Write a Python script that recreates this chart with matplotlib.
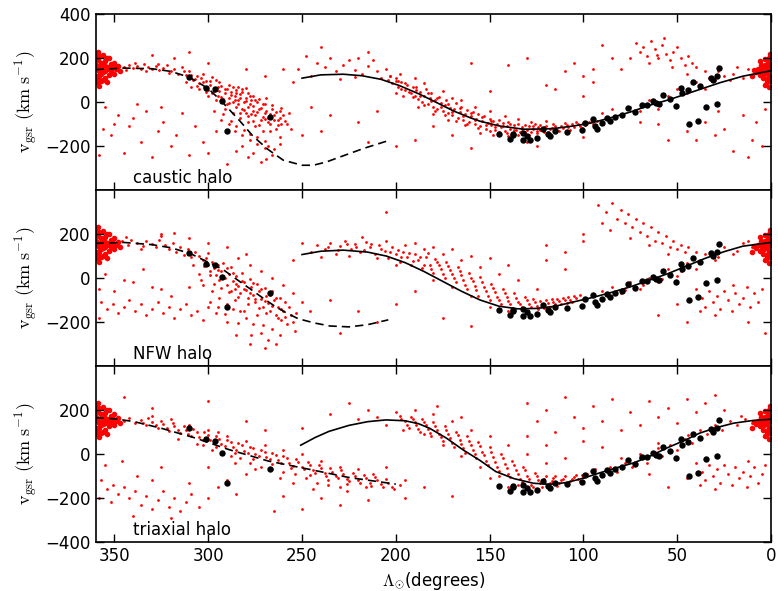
import matplotlib as mpl
mpl.use("Agg")
import matplotlib.pyplot as plt
import numpy as np

plt.rcParams["mathtext.fontset"] = "cm"

# ---- model curves (Lambda_sun in degrees, v_gsr in km/s)
caustic_lead_lam = [360, 345, 330, 320, 310, 300, 293, 283, 276, 268, 260, 250, 244, 237, 230, 217, 204]
caustic_lead_v = [148, 155, 152, 140, 113, 62, 5, -87, -156, -216, -264, -287, -287, -272, -250, -210, -175]
caustic_trail_lam = [250, 240, 228, 218, 208, 198, 187, 178, 169, 160, 155, 145, 132, 120, 114, 105, 96, 85, 75, 65, 54, 40, 27, 15, 0]
caustic_trail_v = [109, 124, 127, 120, 104, 75, 35, -3, -41, -72, -87, -108, -123, -122, -118, -108, -95, -70, -45, -15, 12, 52, 89, 118, 143]

nfw_lead_lam = [360, 345, 330, 320, 310, 300, 292, 285, 278, 271, 264, 258, 252, 243, 235, 225, 215, 204]
nfw_lead_v = [158, 162, 152, 138, 113, 72, 38, -5, -47, -90, -131, -160, -185, -205, -218, -222, -212, -190]
nfw_trail_lam = [250, 240, 228, 215, 205, 195, 185, 175, 165, 155, 145, 135, 125, 115, 105, 95, 85, 75, 65, 55, 45, 35, 25, 15, 0]
nfw_trail_v = [107, 122, 127, 118, 100, 70, 30, -15, -60, -100, -128, -140, -138, -128, -108, -88, -65, -40, -10, 20, 55, 90, 120, 145, 162]

tri_lead_lam = [360, 350, 340, 325, 307, 289, 268, 246, 225, 200]
tri_lead_v = [165, 160, 148, 117, 73, 20, -32, -70, -107, -137]
tri_trail_lam = [250.7, 243, 235.6, 225, 215, 205.3, 195, 188, 182, 173, 164.4, 155, 146.7, 137, 126.7, 118, 109, 100, 91, 82, 73, 64, 55.6, 46, 38, 29, 20, 10, 0]
tri_trail_v = [40, 75, 103, 130, 147, 155, 151, 138, 117, 72, 20, -30, -80, -112, -133, -138, -130, -110, -85, -62, -40, -8, 27, 62, 95, 120, 140, 152, 158]

# ---- observed stars (black), same in every panel
obs_stars = [
    (310.2, 116), (301.3, 66), (296.5, 61), (292.8, 5), (289.8, -133), (267.2, -67),
    (144.9, -144), (137.8, -149), (139.2, -169), (132.1, -141), (130.3, -156), (132.1, -172),
    (128.5, -172), (125, -164), (121.4, -123), (118.8, -144), (117.9, -156), (115.2, -133),
    (109, -138), (101, -126), (99.2, -95), (94.8, -77), (93.9, -110), (93, -123), (90.3, -95),
    (87.6, -72), (85.9, -87), (83.2, -68), (79.6, -57), (76.1, -26), (72.5, -46), (68.9, -15),
    (66.3, -15), (62.8, 5), (61.3, -3), (59.6, -8), (57.8, 31), (53.9, 15), (50.7, -18),
    (48, 66), (47.6, 43), (44.1, 54), (41.4, 92), (37.9, 74), (34.7, -23), (32.2, 112),
    (30.8, 100), (29, 120), (27.7, 155), (43.7, -100), (39.1, -87), (28.6, -8), (137.4, -146),
]

# ---- dense Sgr core, shared by all panels
core_stars = [
    (359, 150), (358, 120), (357, 180), (356, 100), (355, 140), (354, 200), (353, 160), (359, 90),
    (358, 210), (357, 130), (356, 170), (355, 110), (354, 150), (353, 125), (352, 175), (359, 190),
    (358, 160), (357, 95), (356, 215), (355, 185), (354, 90), (353, 200), (352, 140), (351, 160),
    (350, 130), (350, 180), (349, 150), (348, 165), (347, 140), (359, 230), (358, 75), (356, 135),
    (357, 155), (355, 165), (360, 120), (360, 170), (359, 110), (358, 140), (360, 90), (360, 210),
    (0.5, 150), (1, 120), (1.5, 180), (2, 100), (2.5, 140), (3, 170), (3.5, 130), (4, 110),
    (4.5, 160), (5, 140), (6, 125), (7, 150), (1, 200), (2, 90), (0.5, 95), (1, 165), (2, 135),
    (3, 195), (4, 145), (0.5, 175), (1.5, 110), (2.5, 160), (5.5, 170), (8, 135), (9, 145),
    (10, 120), (3, 80), (1, 70), (6, 185), (0.5, 220),
]

# ---- simulated debris (red), per halo model
caustic_debris = [
    (345, 160), (342, 170), (340, 155), (338, 165), (336, 150), (334, 175), (332, 160), (330, 150),
    (328, 165), (326, 145), (324, 155), (322, 170), (320, 140), (318, 150), (316, 130), (314, 160),
    (312, 125), (310, 140), (344, 145), (339, 178), (333, 142), (327, 172), (321, 132),
    (308, 100), (306, 120), (305, 85), (304, 110), (302, 70), (301, 95), (300, 55), (299, 80),
    (298, 40), (297, 65), (296, 100), (295, 30), (294, 50), (293, 75), (292, 15), (291, 40),
    (290, 60), (290, -10), (289, 20), (288, 45), (287, 0), (286, 30), (285, 55), (285, -20),
    (284, 10), (283, 35), (282, -30), (282, 60), (281, 0), (280, 20), (280, -50), (279, 40),
    (278, -10), (277, 10), (276, -40), (276, 30), (275, -60), (274, 0), (273, -30), (272, -80),
    (271, -10), (270, -50), (269, 20), (268, -70), (267, -100), (266, -30), (265, -60),
    (264, -120), (263, -80), (262, -40), (261, -100), (303, 130), (298, 115), (294, 90),
    (289, 80), (284, 70), (280, 65), (300, 30), (296, 10), (291, -30), (287, -50), (283, -70),
    (279, -90), (275, -110), (271, -130), (297, -40), (293, -80), (289, -100), (286, -130),
    (282, -150), (278, -170), (274, -190), (270, -210), (266, -240), (279, -250), (285, -220),
    (272, -270), (262, -160), (260, -60), (258, -100), (312, 90), (309, 70), (305, 60),
    (355, -20), (352, -150), (348, -60), (345, -230), (342, -110), (340, -70), (336, -180),
    (333, -40), (330, -250), (327, -130), (324, -90), (320, -200), (317, -150), (314, -50),
    (310, -240), (307, -110), (303, -180), (300, -230), (296, -130), (290, -280), (350, -100),
    (338, -10), (325, -20), (358, -240), (356, -120),
    (330, 215), (318, 200), (310, 230), (300, 180), (280, 150), (270, 120),
    (255, 90), (252, 150), (248, 210), (245, 120), (242, 180), (238, 160), (235, 200), (232, 140),
    (228, 170), (225, 190), (222, 145), (220, 200), (218, 130), (215, 165), (212, 190), (210, 140),
    (208, 110), (205, 150), (203, 120), (200, 95), (198, 130), (240, 250), (215, 230), (260, 150),
    (222, 115), (230, 105),
    (204, 100), (202, 85), (200, 110), (199, 70), (197, 90), (195, 55), (194, 80), (192, 40),
    (191, 70), (190, 30), (189, 55), (188, 15), (187, 45), (186, 0), (185, 30), (184, 60),
    (183, -10), (182, 20), (181, 40), (180, -20), (179, 10), (178, -30), (177, 25), (176, -5),
    (175, -40), (174, -15), (173, 10), (172, -50), (171, -25), (170, -60), (169, -30), (168, -5),
    (167, -70), (166, -45), (165, -20), (164, -80), (163, -55), (162, -35), (161, -90), (160, -65),
    (159, -45), (158, -100), (157, -75), (156, -55), (155, -110), (154, -85), (153, -65),
    (152, -120), (151, -95), (150, -75), (149, -105), (148, -85), (147, -125), (146, -100),
    (145, -80), (144, -115), (143, -95), (142, -130), (141, -110), (140, -90), (139, -120),
    (138, -140), (137, -105), (136, -125), (135, -100), (134, -135), (133, -115), (132, -145),
    (131, -105), (130, -125), (129, -110), (128, -135), (127, -120), (126, -100), (125, -130),
    (124, -115), (123, -105), (122, -125), (121, -135), (120, -110), (118, -120), (116, -100),
    (114, -125), (112, -110), (110, -95), (108, -115), (106, -100), (104, -90), (102, -110),
    (100, -95), (196, 30), (188, -20), (180, -55), (172, -80), (163, -105), (155, -140),
    (148, -150), (140, -155), (200, 40), (185, 85), (175, 50), (165, 10), (158, -20), (150, -40),
    (142, -65), (135, -75), (128, -90), (120, -85), (190, 110), (170, 20),
    (95, -70), (90, -50), (85, -30), (80, -60), (75, -20), (70, -40), (65, 10), (60, -30),
    (55, 30), (50, 60), (45, 40), (40, 90), (35, 60), (30, 100), (25, 120), (20, 130), (15, 110),
    (12, 150), (18, 160), (22, 100), (28, 140), (33, 110),
    (72, 270), (70, 230), (68, 250), (66, 210), (64, 280), (62, 240), (60, 200), (58, 260),
    (56, 220), (54, 190), (52, 230), (50, 250), (48, 200), (46, 170), (44, 210), (42, 180),
    (65, 180), (57, 290), (61, 215), (53, 160), (75, 200), (85, 200), (90, 260), (105, 180),
    (120, 80), (115, 60), (95, 90), (100, 30), (80, 150), (110, 140), (35, 140), (45, 130), (40, 160),
    (45, -130), (40, -170), (35, -90), (30, -150), (25, -120), (20, -220), (15, -60), (10, -170),
    (5, -200), (8, -90), (55, -170), (60, -100), (70, -90), (28, -40), (3, -30), (12, -250),
    (100, -160), (130, -180), (125, -200),
    (235, -60), (220, -90), (215, -180), (200, -200), (190, -170), (180, -110), (170, -150),
    (160, -210), (240, -130), (250, -150), (210, -40), (245, -20), (150, 50), (140, 170),
    (130, 200), (160, 180), (100, 120), (95, 150),
]
caustic_debris_dense = [
    (297, 52), (295, 71), (293, 22), (291, 58), (289, -4), (288, 33), (286, 12), (285, 41),
    (284, -8), (283, 18), (282, 47), (281, -37), (280, 5), (279, -22), (278, 27), (277, -55),
    (276, -18), (275, 8), (274, -44), (273, 15), (272, -26), (271, -66), (270, -8), (269, -38),
    (268, -90), (267, -52), (266, -12), (265, -82), (264, -45), (263, -105), (262, -70),
    (261, -25), (259, -85), (257, -50), (256, -120), (299, 95), (301, 45), (303, 92), (306, 75),
    (307, 103), (309, 122), (311, 108), (313, 142), (287, 68), (283, -48), (279, -62),
    (276, -88), (273, -105), (270, -75), (267, -130), (292, -52), (288, -85), (285, -110),
    (281, -128), (278, -145), (274, -160), (270, -178), (268, -200), (265, -215), (262, -190),
    (276, -230), (282, -200), (269, -258),
    (203, 118), (199, 96), (197, 62), (195, 88), (193, 48), (191, 22), (189, 68), (187, 28),
    (185, -12), (183, 42), (181, 5), (179, -42), (178, 18), (176, -22), (174, -58), (172, -8),
    (170, -45), (168, -85), (166, -28), (164, -62), (162, -98), (160, -48), (158, -82),
    (156, -118), (154, -68), (152, -102), (150, -132), (149, -88), (147, -112), (145, -135),
    (143, -108), (141, -142), (139, -100), (137, -128), (135, -148), (133, -122), (131, -138),
    (129, -150), (127, -108), (125, -142), (123, -128), (121, -112), (119, -138), (117, -118),
    (115, -108), (113, -132), (111, -118), (109, -105), (107, -125), (105, -112), (103, -100),
    (101, -118), (99, -105), (97, -90), (95, -100), (93, -85),
]

nfw_debris = [
    (346, 170), (343, 150), (341, 175), (338, 160), (335, 145), (333, 168), (330, 155), (328, 140),
    (326, 175), (323, 150), (321, 130), (319, 160), (317, 120), (315, 140), (313, 105), (311, 130),
    (309, 95), (307, 120), (305, 100), (303, 80), (336, 130), (325, 190), (318, 205), (344, 185),
    (301, 90), (300, 60), (299, 30), (298, 75), (297, 45), (296, 15), (295, 60), (294, -10),
    (293, 30), (292, 70), (291, 0), (290, -30), (289, 20), (288, 50), (287, -15), (286, -50),
    (285, 10), (284, -35), (283, -70), (282, 25), (281, -20), (280, -55), (279, -90), (278, -5),
    (277, -40), (276, -75), (275, -110), (274, -25), (273, -60), (272, -95), (271, -130),
    (270, -45), (269, -80), (268, -115), (267, -150), (266, -60), (265, -100), (264, -170),
    (263, -130), (262, -90), (261, -190), (260, -150), (259, -110), (258, -210), (256, -170),
    (254, -240), (298, -60), (294, -90), (290, -120), (286, -100), (283, -150), (280, -180),
    (276, -210), (272, -250), (268, -280), (264, -300), (285, -260), (278, -300), (290, -200),
    (296, -160), (270, -320), (262, -260), (305, 20), (303, -30), (288, -60), (284, 90),
    (278, 60), (272, 30), (266, 0), (260, -30), (255, -70), (250, -110), (246, -150), (300, 115),
    (357, -110), (354, -140), (351, -120), (348, -160), (345, -130), (342, -100), (339, -150),
    (336, -120), (333, -170), (330, -140), (327, -110), (324, -160), (321, -130), (318, -180),
    (315, -140), (312, -120), (309, -170), (306, -150), (303, -190), (300, -130), (358, -180),
    (350, -60), (340, -20), (330, -40), (320, -80), (355, 20), (345, -10), (335, 40), (325, -50),
    (310, -40), (358, -50),
    (325, 200), (310, 180), (290, 140), (280, 110), (300, 160),
    (245, 120), (242, 150), (238, 130), (235, 160), (232, 110), (230, 145), (227, 170), (224, 130),
    (222, 155), (219, 120), (216, 165), (214, 140), (211, 110), (209, 150), (206, 125), (204, 90),
    (202, 140), (200, 110), (198, 75), (196, 120), (194, 95), (192, 60), (190, 110), (188, 80),
    (186, 45), (184, 95), (182, 60), (180, 25), (178, 75), (176, 40), (174, 0), (172, 55),
    (170, 20), (168, -20), (166, 30), (164, -10), (162, -50), (160, 0), (158, -35), (156, -80),
    (154, -20), (152, -60), (150, -100), (148, -45), (146, -85), (144, -120), (142, -70),
    (140, -105), (138, -135), (136, -90), (134, -120), (132, -145), (130, -100), (128, -130),
    (126, -110), (124, -140), (122, -120), (120, -100), (118, -130), (116, -110), (114, -95),
    (112, -120), (110, -100), (108, -85), (106, -110), (104, -90), (102, -75), (100, -95),
    (218, 185), (205, 170), (195, 150), (185, 130), (175, 110), (165, 80), (155, 50), (145, 20),
    (135, -10), (125, -50), (200, 60), (180, -10), (170, -40), (160, -80), (150, -130),
    (140, -150), (130, -160), (190, 160), (210, 90), (225, 100), (240, 95), (180, 140),
    (170, 130), (160, 100),
    (250, 160), (255, 80), (235, -100), (220, -150), (210, -200), (200, -120), (190, -60),
    (175, -180), (160, -220), (150, 90), (140, 60), (120, 150), (110, 40), (100, 170), (205, 300),
    (230, -250),
    (95, -80), (90, -60), (85, -40), (80, -70), (75, -20), (70, -50), (65, 0), (60, -20), (55, 40),
    (50, 10), (45, 70), (40, 40), (35, 110), (30, 80), (25, 140), (20, 110), (15, 160), (10, 140),
    (12, 170), (18, 125), (28, 95), (38, 70), (48, 30), (58, -5), (68, -30), (78, -55),
    (92, 330), (88, 300), (85, 340), (82, 270), (80, 310), (78, 250), (76, 290), (74, 230),
    (72, 270), (70, 210), (68, 250), (66, 190), (64, 230), (62, 170), (60, 210), (58, 160),
    (56, 190), (54, 140), (52, 170), (50, 130), (48, 150), (46, 120), (44, 140), (86, 220),
    (90, 250), (75, 180), (65, 150), (55, 110), (100, 200), (110, 120), (120, 80), (40, 120),
    (40, -50), (37, -90), (35, -130), (33, -60), (31, -110), (29, -80), (27, -140), (25, -60),
    (23, -100), (21, -150), (19, -70), (17, -120), (15, -90), (13, -40), (11, -130), (9, -70),
    (7, -110), (5, -50), (38, -150), (30, -170), (20, -30), (50, -120), (60, -170), (45, -200),
    (3, -250), (12, -200),
]
nfw_debris_dense = [
    (302, 55), (299, 12), (297, -28), (295, 35), (293, -45), (292, 8), (290, 45), (289, -62),
    (287, 22), (285, -28), (284, -85), (282, -12), (281, -48), (279, -120), (278, -68),
    (276, -22), (275, -95), (273, -138), (272, -48), (270, -105), (269, -160), (267, -78),
    (266, -128), (264, -92), (263, -180), (261, -140), (259, -175), (257, -130), (255, -200),
    (253, -160), (299, -110), (295, -130), (291, -165), (287, -140), (284, -205), (281, -150),
    (277, -260), (274, -170), (271, -215), (266, -230), (308, 60), (304, -10),
    (236, 140), (231, 128), (226, 155), (221, 140), (217, 128), (213, 155), (208, 132),
    (203, 118), (199, 128), (197, 98), (193, 112), (191, 78), (187, 98), (185, 60), (183, 112),
    (181, 42), (179, 88), (177, 58), (175, 20), (173, 72), (171, 38), (169, 0), (167, 50),
    (165, 12), (163, -30), (161, 25), (159, -15), (157, -55), (155, 5), (153, -40), (151, -80),
    (149, -25), (147, -65), (145, -100), (143, -50), (141, -88), (139, -118), (137, -70),
    (135, -108), (133, -130), (131, -85), (129, -118), (127, -95), (125, -128), (123, -105),
    (121, -135), (119, -112), (117, -95), (115, -120), (113, -105), (111, -90), (109, -115),
    (107, -100), (105, -82),
]

triaxial_debris = [
    (348, 170), (345, 150), (342, 165), (339, 140), (336, 155), (333, 130), (330, 145), (327, 120),
    (324, 135), (321, 105), (318, 125), (315, 95), (312, 110), (309, 80), (306, 100), (303, 65),
    (300, 85), (297, 50), (294, 70), (291, 35), (288, 55), (285, 20), (282, 40), (279, 5),
    (276, 25), (273, -10), (270, 10), (267, -25), (264, -5), (261, -40), (258, -20), (255, -55),
    (252, -35), (249, -70), (246, -50), (243, -85), (240, -65), (237, -100), (234, -80),
    (231, -110), (228, -90), (225, -125), (222, -100), (219, -130), (216, -110), (213, -145),
    (210, -120), (207, -150), (204, -130), (201, -160), (198, -140), (195, -120), (303, 40),
    (298, 20), (293, 0), (288, -10), (283, -20), (278, -40), (272, -60), (266, -70), (260, -80),
    (254, -90), (248, -110), (242, -130), (236, -140), (230, -150), (310, 130), (300, 110),
    (290, 80), (280, 60), (270, 40), (260, 20), (250, 0), (240, -30), (230, -60), (220, -70),
    (316, 70), (286, -40), (262, -110), (244, -160), (226, -170), (212, -90), (320, 160),
    (330, 175), (295, 100), (275, -70), (255, -130),
    (357, -120), (354, -160), (351, -140), (348, -180), (345, -150), (342, -200), (339, -170),
    (336, -230), (333, -190), (330, -250), (327, -210), (324, -170), (321, -240), (318, -200),
    (315, -260), (312, -220), (309, -180), (305, -240), (300, -200), (295, -150), (290, -120),
    (285, -180), (280, -90), (358, -200), (352, -220), (340, -280), (320, -290), (330, -120),
    (346, -30), (355, -50), (338, -100), (310, -130), (300, -60), (325, -60),
    (345, 260), (300, 240), (330, 210), (280, 150), (270, 110), (250, 120), (240, -200),
    (260, -190), (230, -230), (215, -210), (205, -60), (195, -200), (185, -150), (170, -190),
    (250, -250), (265, -260),
    (200, 190), (197, 160), (194, 130), (192, 170), (190, 145), (188, 115), (186, 160), (184, 130),
    (182, 95), (180, 145), (178, 110), (176, 75), (174, 125), (172, 90), (170, 50), (168, 100),
    (166, 65), (164, 25), (162, 80), (160, 40), (158, 0), (156, 55), (154, 10), (152, -30),
    (150, 30), (148, -15), (146, -60), (144, 0), (142, -45), (140, -90), (138, -30), (136, -75),
    (134, -115), (132, -60), (130, -100), (128, -140), (126, -85), (124, -120), (122, -150),
    (120, -100), (118, -130), (116, -110), (114, -145), (112, -120), (110, -100), (108, -135),
    (106, -115), (104, -95), (102, -125), (100, -105), (196, 110), (185, 90), (175, 40),
    (165, -10), (155, -60), (145, -100), (135, -140), (125, -160), (190, 200), (180, 180),
    (170, 150), (160, 110), (150, 80), (140, 40), (130, 0), (120, -40), (205, 130), (210, 170),
    (215, 200), (220, 160), (225, 230), (235, 180), (178, 220), (165, 170), (150, -110),
    (140, -150),
    (130, 230), (125, 150), (120, 200), (115, 100), (110, 260), (105, 170), (100, 120), (95, 220),
    (90, 150), (85, 250), (80, 110), (75, 190), (70, 130), (65, 240), (60, 170), (55, 210),
    (50, 140), (45, 250), (40, 190), (35, 230), (30, 270), (25, 200), (100, 60), (90, 30),
    (80, -20), (70, 0), (60, 50), (110, -20), (120, 40), (130, 80),
    (98, -90), (94, -70), (90, -100), (86, -60), (82, -80), (78, -40), (74, -60), (70, -20),
    (66, -40), (62, 10), (58, -10), (54, 40), (50, 20), (46, 70), (42, 50), (38, 110), (34, 90),
    (30, 130), (26, 110), (22, 150), (18, 130), (14, 160), (10, 140), (16, 175), (28, 150),
    (44, 85), (60, 25), (76, -25),
    (40, -40), (37, -80), (35, -120), (33, -50), (31, -100), (29, -70), (27, -130), (25, -50),
    (23, -90), (21, -140), (19, -60), (17, -110), (15, -80), (13, -150), (11, -100), (9, -60),
    (7, -130), (5, -90), (38, -140), (30, -160), (12, -30), (3, -50), (45, -110), (55, -150),
    (65, -90),
]
triaxial_debris_dense = [
    (335, 140), (332, 162), (328, 132), (325, 150), (322, 118), (319, 140), (316, 108),
    (313, 125), (311, 92), (308, 112), (305, 78), (302, 98), (299, 62), (296, 82), (293, 45),
    (290, 65), (287, 30), (284, 50), (281, 15), (278, 32), (275, -2), (272, 18), (269, -15),
    (266, 5), (263, -28), (260, -8), (257, -42), (253, -22), (250, -58), (247, -38), (244, -72),
    (241, -50), (238, -88), (235, -65), (232, -98), (229, -75), (226, -112), (223, -88),
    (220, -118), (217, -95), (214, -130), (211, -105), (208, -138), (205, -115), (202, -148),
    (306, 45), (296, 30), (286, 5), (276, -25), (266, -45), (256, -65), (246, -95), (236, -118),
    (226, -135), (216, -150),
    (198, 175), (195, 148), (193, 118), (191, 160), (189, 132), (187, 100), (185, 145),
    (183, 112), (181, 80), (179, 128), (177, 92), (175, 58), (173, 108), (171, 72), (169, 32),
    (167, 85), (165, 45), (163, 5), (161, 60), (159, 20), (157, -18), (155, 35), (153, -5),
    (151, -48), (149, 8), (147, -35), (145, -78), (143, -20), (141, -62), (139, -105),
    (137, -48), (135, -92), (133, -128), (131, -75), (129, -115), (127, -148), (125, -98),
    (123, -132), (121, -115), (119, -148), (117, -122), (115, -100), (113, -130), (111, -112),
    (109, -142), (107, -125), (105, -105), (103, -115), (101, -95),
]

panel_names = ["caustic halo", "NFW halo", "triaxial halo"]
panel_debris = [caustic_debris + caustic_debris_dense,
                nfw_debris + nfw_debris_dense,
                triaxial_debris + triaxial_debris_dense]
panel_lead = [(caustic_lead_lam, caustic_lead_v), (nfw_lead_lam, nfw_lead_v), (tri_lead_lam, tri_lead_v)]
panel_trail = [(caustic_trail_lam, caustic_trail_v), (nfw_trail_lam, nfw_trail_v), (tri_trail_lam, tri_trail_v)]
panel_yticks = [[-200, 0, 200, 400], [-200, 0, 200], [-400, -200, 0, 200]]

fig, axes = plt.subplots(3, 1, sharex=True, figsize=(7.78, 5.91), dpi=100)
fig.subplots_adjust(left=0.123, right=0.991, top=0.976, bottom=0.083, hspace=0)

core = np.array(core_stars).T
obs = np.array(obs_stars).T

for i, ax in enumerate(axes):
    deb = np.array(panel_debris[i]).T
    ax.plot(core[0], core[1], ls="none", marker="o", ms=4.0, mew=0, color="red", zorder=1)
    ax.plot(deb[0], deb[1], ls="none", marker="o", ms=2.0, mew=0, color="red", zorder=1)
    ax.plot(*panel_lead[i], color="k", lw=1.2, dashes=(5, 3), zorder=2)
    ax.plot(*panel_trail[i], color="k", lw=1.2, zorder=2)
    ax.plot(obs[0], obs[1], ls="none", marker="o", ms=4.6, mew=0, color="k", zorder=3)

    ax.set_xlim(360, 0)
    ax.set_ylim(-400, 400)
    ax.set_yticks(panel_yticks[i])
    ax.set_xticks([350, 300, 250, 200, 150, 100, 50, 0])
    ax.tick_params(direction="in", top=True, right=True, length=6, width=1, labelsize=12)
    for s in ax.spines.values():
        s.set_linewidth(1.2)
    ax.set_ylabel(r"$\rm v_{gsr}\ (km\ s^{-1})$", fontsize=13)
    ax.text(0.055, 0.07, panel_names[i], transform=ax.transAxes, fontsize=12, va="center", ha="left")

axes[-1].set_xlabel(r"$\Lambda_{\odot}$(degrees)", fontsize=12)
fig.align_ylabels(axes)

fig.savefig("out.png", dpi=100)
